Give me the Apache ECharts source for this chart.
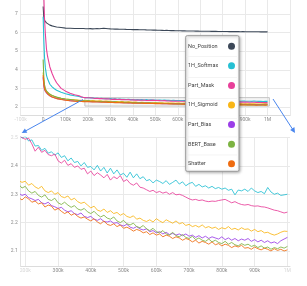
<!DOCTYPE html>
<html><head><meta charset="utf-8">
<script src="https://cdn.jsdelivr.net/npm/echarts@6/dist/echarts.min.js"></script>
<style>html,body{margin:0;padding:0;background:#fff}#c{width:307px;height:286px}</style>
</head><body><div id="c"></div>
<script>
// ---- data (x in thousands of steps) ----
const names = ['No_Position','1H_Softmax','Part_Mask','1H_Sigmoid','Part_Bias','BERT_Base','Shatter'];
const colors = ['#3c4858','#26c0d3','#e8409a','#f9b617','#9b3ee8','#7cb342','#ef6c10'];

const earlySteps = [0,3,6,10,15,20,30,40,50,60,80,100,120,140,160,170];
const tailSteps = [180,190,200,210,220,230,240,250,260,270,280,290,300,310,320,330,340,350,360,370,380,390,400,410,420,430,440,450,460,470,480,490,500,510,520,530,540,550,560,570,580,590,600,610,620,630,640,650,660,670,680,690,700,710,720,730,740,750,760,770,780,790,800,810,820,830,840,850,860,870,880,890,900,910,920,930,940,950,960,970,980,990,1000];

const noPositionEarly = [7.4,6.8,6.65,6.58,6.52,6.48,6.4,6.36,6.33,6.3,6.27,6.24,6.23,6.22,6.22,6.216];
const noPositionTail = [6.214,6.208,6.205,6.21,6.2,6.206,6.212,6.204,6.218,6.232,6.22,6.208,6.196,6.19,6.186,6.19,6.18,6.176,6.18,6.172,6.168,6.164,6.16,6.162,6.156,6.15,6.148,6.15,6.142,6.138,6.14,6.132,6.128,6.124,6.12,6.118,6.114,6.116,6.11,6.106,6.104,6.1,6.098,6.094,6.092,6.09,6.086,6.084,6.082,6.08,6.078,6.08,6.074,6.072,6.07,6.068,6.066,6.064,6.062,6.064,6.06,6.058,6.056,6.054,6.056,6.052,6.05,6.052,6.048,6.05,6.046,6.048,6.044,6.046,6.042,6.044,6.04,6.042,6.04,6.038,6.04,6.036,6.038];

const softmaxEarly = [6.85,5.6,4.7,4.1,3.7,3.5,3.22,3.08,2.98,2.9,2.79,2.71,2.65,2.6,2.56,2.53];
const softmaxTail = [2.512,2.498,2.505,2.488,2.492,2.470,2.472,2.455,2.462,2.445,2.450,2.438,2.446,2.430,2.436,2.418,2.428,2.412,2.416,2.400,2.412,2.395,2.398,2.386,2.402,2.382,2.395,2.375,2.392,2.372,2.386,2.368,2.374,2.360,2.378,2.358,2.372,2.355,2.362,2.348,2.352,2.340,2.350,2.345,2.338,2.348,2.335,2.342,2.350,2.336,2.344,2.330,2.338,2.342,2.328,2.335,2.326,2.330,2.322,2.328,2.320,2.324,2.318,2.322,2.314,2.318,2.298,2.315,2.312,2.318,2.310,2.322,2.312,2.306,2.310,2.302,2.324,2.308,2.300,2.304,2.296,2.298,2.300];

const maskEarly = [10.5,8.0,6.8,5.9,5.1,4.7,4.15,3.8,3.52,3.3,3.0,2.85,2.74,2.66,2.6,2.55];
const maskTail = [2.508,2.500,2.494,2.498,2.478,2.452,2.466,2.448,2.455,2.440,2.436,2.442,2.418,2.410,2.420,2.402,2.408,2.395,2.400,2.388,2.392,2.372,2.382,2.366,2.376,2.368,2.358,2.370,2.350,2.362,2.355,2.366,2.345,2.352,2.338,2.332,2.340,2.325,2.322,2.316,2.310,2.314,2.306,2.310,2.304,2.308,2.300,2.306,2.298,2.300,2.296,2.290,2.284,2.280,2.282,2.278,2.280,2.276,2.274,2.276,2.275,2.278,2.280,2.282,2.276,2.270,2.274,2.268,2.264,2.262,2.264,2.260,2.258,2.259,2.256,2.255,2.252,2.248,2.244,2.242,2.238,2.234,2.237];

const sigmoidEarly = [3.85,3.4,3.1,2.95,2.85,2.78,2.68,2.61,2.56,2.52,2.47,2.43,2.4,2.38,2.36,2.352];
const sigmoidTail = [2.348,2.342,2.346,2.332,2.338,2.326,2.320,2.328,2.312,2.306,2.312,2.300,2.306,2.292,2.288,2.294,2.280,2.286,2.274,2.268,2.272,2.262,2.252,2.258,2.244,2.240,2.248,2.236,2.242,2.232,2.236,2.226,2.232,2.222,2.218,2.224,2.212,2.216,2.208,2.204,2.210,2.202,2.214,2.206,2.200,2.210,2.204,2.198,2.206,2.196,2.200,2.190,2.194,2.186,2.190,2.184,2.192,2.182,2.186,2.180,2.184,2.176,2.182,2.178,2.186,2.176,2.180,2.174,2.182,2.176,2.178,2.170,2.176,2.168,2.172,2.164,2.166,2.160,2.156,2.160,2.166,2.170,2.169];

const biasEarly = [3.6,3.15,2.95,2.84,2.75,2.69,2.6,2.54,2.5,2.46,2.41,2.37,2.34,2.32,2.31,2.306];
const biasTail = [2.304,2.296,2.300,2.288,2.284,2.278,2.282,2.270,2.266,2.272,2.260,2.256,2.250,2.254,2.244,2.238,2.242,2.232,2.228,2.234,2.222,2.218,2.222,2.212,2.208,2.214,2.204,2.202,2.206,2.198,2.200,2.192,2.188,2.194,2.184,2.180,2.186,2.178,2.174,2.178,2.168,2.172,2.164,2.168,2.160,2.166,2.158,2.162,2.156,2.160,2.154,2.160,2.152,2.156,2.148,2.154,2.146,2.152,2.144,2.150,2.146,2.142,2.150,2.140,2.146,2.138,2.144,2.136,2.142,2.138,2.144,2.134,2.140,2.132,2.138,2.130,2.136,2.128,2.132,2.126,2.136,2.142,2.148];

const bertEarly = [4.55,3.6,3.2,2.98,2.85,2.78,2.68,2.62,2.57,2.53,2.47,2.43,2.4,2.37,2.35,2.34];
const bertTail = [2.335,2.322,2.328,2.312,2.304,2.310,2.296,2.290,2.298,2.282,2.278,2.286,2.270,2.264,2.272,2.262,2.254,2.260,2.248,2.244,2.250,2.238,2.232,2.240,2.228,2.220,2.226,2.216,2.212,2.220,2.206,2.200,2.208,2.196,2.192,2.198,2.186,2.182,2.190,2.178,2.172,2.180,2.168,2.164,2.172,2.160,2.156,2.166,2.154,2.150,2.158,2.148,2.144,2.152,2.140,2.146,2.138,2.134,2.142,2.132,2.138,2.130,2.126,2.134,2.124,2.130,2.122,2.118,2.126,2.120,2.124,2.116,2.120,2.112,2.118,2.110,2.114,2.106,2.112,2.108,2.114,2.110,2.116];

const shatterEarly = [3.7,3.2,2.98,2.86,2.76,2.7,2.6,2.54,2.49,2.45,2.4,2.36,2.33,2.31,2.3,2.294];
const shatterTail = [2.288,2.280,2.291,2.284,2.272,2.276,2.266,2.270,2.255,2.262,2.258,2.244,2.250,2.240,2.232,2.238,2.226,2.232,2.222,2.216,2.220,2.212,2.206,2.214,2.202,2.196,2.206,2.194,2.190,2.196,2.186,2.192,2.180,2.184,2.178,2.170,2.176,2.172,2.164,2.168,2.158,2.164,2.156,2.160,2.150,2.156,2.152,2.144,2.150,2.146,2.138,2.144,2.140,2.132,2.138,2.128,2.134,2.130,2.124,2.132,2.122,2.126,2.118,2.124,2.120,2.112,2.118,2.114,2.120,2.110,2.112,2.106,2.114,2.108,2.104,2.110,2.106,2.100,2.108,2.102,2.106,2.100,2.104];

const earlyVals = [noPositionEarly, softmaxEarly, maskEarly, sigmoidEarly, biasEarly, bertEarly, shatterEarly];
const tailVals = [noPositionTail, softmaxTail, maskTail, sigmoidTail, biasTail, bertTail, shatterTail];

// ticks
const topXTicks = [-100,0,100,200,300,400,500,600,700,800,900,1000];
const topYTicks = [2,3,4,5,6,7];
const botXTicks = [200,300,400,500,600,700,800,900,1000];
const botYTicks = [2.1,2.2,2.3,2.4,2.5];
// zoom window (shown as box in top chart, axis range of bottom chart)
const zoomX = [186, 1008];
const zoomY = [2.047, 2.501];

const fmtK = v => v === 0 ? '0' : (v >= 1000 ? (v/1000) + 'M' : v + 'k');
const faint = {color:'#d6d6d6', fontSize:5, fontFamily:'Roboto'};
const lbl = {color:'#8a8a8a', fontSize:5, fontFamily:'Roboto'};
const grid = '#e9e9e9';

const series = [];
names.forEach((n, i) => {
  const steps = earlySteps.concat(tailSteps);
  const vals = earlyVals[i].concat(tailVals[i]);
  const s = {
    name: n, type: 'line', xAxisIndex: 0, yAxisIndex: 0, showSymbol: false, symbol: 'none',
    lineStyle: {width: 1.1, color: colors[i]}, itemStyle: {color: colors[i]},
    data: steps.map((x, j) => [x, vals[j]]), z: 3
  };
  if (i === 0) {
    s.markArea = {silent: true, itemStyle: {color: 'rgba(225,225,225,0.35)', borderColor: '#c4c4c4', borderWidth: 1},
      data: [[{xAxis: zoomX[0], yAxis: zoomY[0]}, {xAxis: zoomX[1], yAxis: zoomY[1]}]]};
  }
  series.push(s);
  if (i > 0) {
    series.push({
      name: n, type: 'line', xAxisIndex: 1, yAxisIndex: 1, showSymbol: false, symbol: 'none',
      lineStyle: {width: 1, color: colors[i], opacity: 0.85}, itemStyle: {color: colors[i]},
      data: tailSteps.map((x, j) => [x, tailVals[i][j]]), z: 3
    });
  }
});

const chart = echarts.init(document.getElementById('c'), null, {renderer: 'canvas'});
chart.setOption({
  animation: false,
  backgroundColor: '#fff',
  grid: [
    {left: 20.7, right: 17, top: 0, height: 115.7},
    {left: 20.7, right: 17, top: 137.3, bottom: 20}
  ],
  xAxis: [
    {gridIndex: 0, type: 'value', min: -100, max: 1100, interval: 100,
     axisLine: {show: true, lineStyle: {color: '#dcdcdc'}}, axisTick: {show: false},
     splitLine: {show: true, lineStyle: {color: grid}},
     axisLabel: {customValues: topXTicks, margin: 1.5, ...lbl, rich: {f: faint},
       formatter: v => v === -100 ? '{f|-100k}' : fmtK(v)}},
    {gridIndex: 1, type: 'value', min: zoomX[0], max: zoomX[1],
     axisLine: {show: true, lineStyle: {color: '#dcdcdc'}}, axisTick: {show: false, customValues: botXTicks},
     splitLine: {show: true, lineStyle: {color: grid}},
     axisLabel: {customValues: botXTicks, margin: 2, ...lbl, rich: {f: faint},
       formatter: v => (v === 200 || v === 1000) ? '{f|' + fmtK(v) + '}' : fmtK(v)}}
  ],
  yAxis: [
    {gridIndex: 0, type: 'value', min: 1.53, max: 7.75,
     axisLine: {show: true, lineStyle: {color: '#e2e2e2'}}, axisTick: {show: false, customValues: topYTicks},
     splitLine: {show: true, lineStyle: {color: grid}},
     axisLabel: {customValues: topYTicks, margin: 3, ...lbl, formatter: v => String(v)}},
    {gridIndex: 1, type: 'value', min: zoomY[0], max: zoomY[1],
     axisLine: {show: true, lineStyle: {color: '#e2e2e2'}}, axisTick: {show: false, customValues: botYTicks},
     splitLine: {show: true, lineStyle: {color: grid}},
     axisLabel: {customValues: botYTicks, margin: 3, ...lbl, rich: {f: faint},
       formatter: v => Math.abs(v - 2.5) < 1e-6 ? '{f|2.5}' : v.toFixed(1)}}
  ],
  legend: {
    data: names, orient: 'vertical', left: 185.7, top: 35.7, align: 'right',
    icon: 'circle', itemWidth: 7, itemHeight: 7, itemGap: 12.6, selectedMode: false,
    padding: [7, 4, 4, 2.3],
    backgroundColor: '#fff', borderColor: '#9a9a9a', borderWidth: 1, borderRadius: 1.5,
    shadowBlur: 3, shadowColor: 'rgba(0,0,0,0.3)', shadowOffsetX: 1, shadowOffsetY: 1,
    formatter: n => '{a|' + n + '}',
    textStyle: {fontSize: 5.5, color: '#444', fontFamily: 'Roboto',
      rich: {a: {width: 35, align: 'left', fontSize: 5.5, color: '#444', fontFamily: 'Roboto'}}},
    z: 20
  },
  graphic: [
    {type: 'polyline', z: 30, shape: {points: [[83, 99.5], [24, 131.8]]}, style: {stroke: '#4a86ee', lineWidth: 1, fill: null}},
    {type: 'polygon', z: 30, shape: {points: [[21.7, 133], [24.9, 128.4], [27.3, 132.8]]}, style: {fill: '#4a86ee'}},
    {type: 'polyline', z: 30, shape: {points: [[273, 99], [293.6, 130.8]]}, style: {stroke: '#4a86ee', lineWidth: 1, fill: null}},
    {type: 'polygon', z: 30, shape: {points: [[295, 133], [290.2, 129.9], [294.4, 127.1]]}, style: {fill: '#4a86ee'}},
    ...[56.5, 77.5, 98.5, 118.5, 137, 155].map(y => ({type: 'line', z: 30, shape: {x1: 186.5, y1: y, x2: 237, y2: y}, style: {stroke: '#ededed', lineWidth: 0.6}}))
  ],
  series: series
});
</script></body></html>
